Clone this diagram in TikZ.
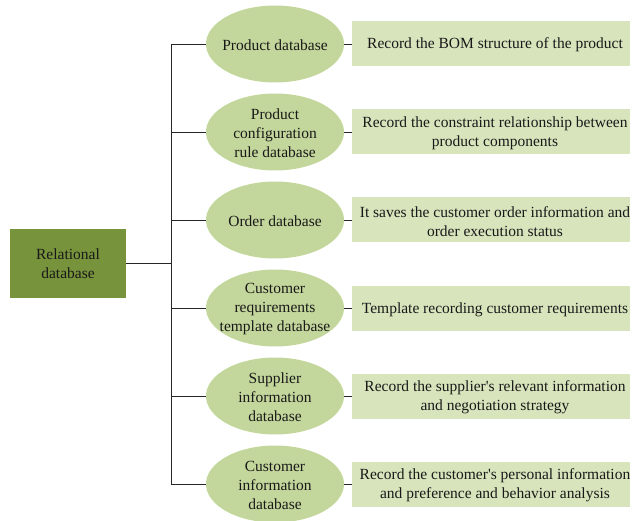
\documentclass[tikz,border=0pt]{standalone}
\usepackage{fontspec}
\setmainfont{Liberation Serif}
\usetikzlibrary{shapes.geometric}
\definecolor{rootgreen}{HTML}{77933C}
\definecolor{ellgreen}{HTML}{C3D69B}
\definecolor{boxgreen}{HTML}{D7E4BC}
\definecolor{linegray}{HTML}{262626}
\begin{document}
\begin{tikzpicture}[x=1pt,y=-1pt,
  every node/.style={font=\fontsize{15.5}{19}\selectfont, text=black!90},
  rootbox/.style={draw=none, fill=rootgreen, minimum width=116pt, minimum height=69pt, align=center},
  dbell/.style={ellipse, draw=none, fill=ellgreen, minimum width=138pt, minimum height=77pt, inner sep=0pt},
  notebox/.style={draw=none, fill=boxgreen, minimum width=278pt, minimum height=45pt, inner sep=0pt},
  label/.style={align=center, inner sep=0pt, yshift=-1.5pt},
  link/.style={draw=linegray, line width=0.9pt}]
\useasboundingbox (0,0) rectangle (634,521);

\node[rootbox] (root) at (68,263.5) {Relational\\database};
\coordinate (trunk) at (171,263.5);

% database ellipses (fixed size) with their captions on top
\foreach \i/\y in {1/44,2/132,3/220,4/308,5/396,6/484}
  \node[dbell] (e\i) at (275,\y) {};
\node[label] at (e1) {Product database};
\node[label] at (e2) {Product\\configuration\\rule database};
\node[label] at (e3) {Order database};
\node[label] at (e4) {Customer\\requirements\\template database};
\node[label] at (e5) {Supplier\\information\\database};
\node[label] at (e6) {Customer\\information\\database};

% description boxes
\foreach \i/\y in {1/43.5,2/132,3/220,4/308.5,5/396,6/484}
  \node[notebox] (n\i) at (491,\y) {};
\node[label, xshift=4pt] at (n1) {Record the BOM structure of the product};
\node[label, xshift=4pt] at (n2) {Record the constraint relationship between\\product components};
\node[label, xshift=4pt] at (n3) {It saves the customer order information and\\order execution status};
\node[label, xshift=4pt] at (n4) {Template recording customer requirements};
\node[label, xshift=4pt] at (n5) {Record the supplier\textquotesingle s relevant information\\and negotiation strategy};
\node[label, xshift=4pt] at (n6) {Record the customer\textquotesingle s personal information\\and preference and behavior analysis};

\coordinate (t1) at (171,44);
\coordinate (t6) at (171,484);
\draw[link] (root.east) -- (trunk);
\draw[link] (t1) -- (t6);
\foreach \i in {1,...,6} {
  \draw[link] (e\i.west -| trunk) -- (e\i.west);
  \draw[link] (e\i.east) -- (e\i.east -| n\i.west);
}
\end{tikzpicture}
\end{document}
